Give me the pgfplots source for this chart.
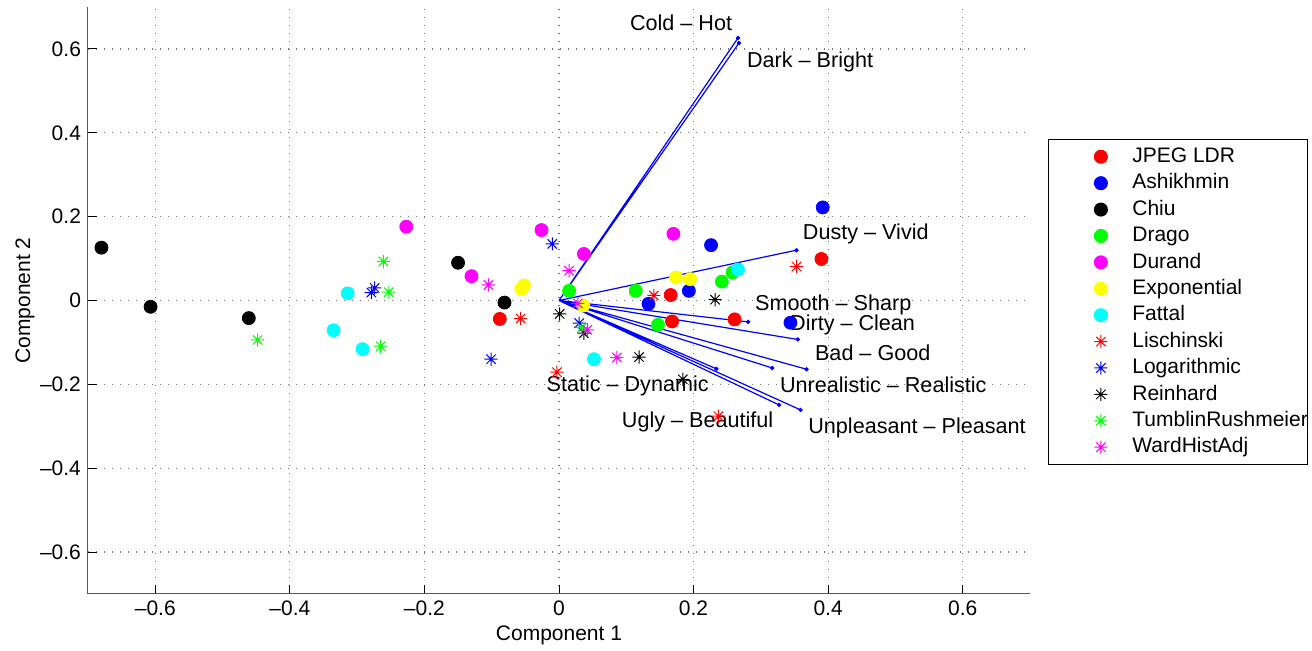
\documentclass[border=0pt]{standalone}
\usepackage{fontspec}
\setmainfont{Liberation Sans}
\usepackage{pgfplots}
\pgfplotsset{compat=1.18}
\newcommand\fs{\fontsize{10.5}{12.6}\selectfont}
\newcommand\fl{\fontsize{10.8}{13}\selectfont}
\pgfdeclareplotmark{mstar}{%
  \pgfpathmoveto{\pgfqpoint{-\pgfplotmarksize}{0pt}}\pgfpathlineto{\pgfqpoint{\pgfplotmarksize}{0pt}}%
  \pgfpathmoveto{\pgfqpoint{0pt}{-\pgfplotmarksize}}\pgfpathlineto{\pgfqpoint{0pt}{\pgfplotmarksize}}%
  \pgfpathmoveto{\pgfqpoint{-.707\pgfplotmarksize}{-.707\pgfplotmarksize}}\pgfpathlineto{\pgfqpoint{.707\pgfplotmarksize}{.707\pgfplotmarksize}}%
  \pgfpathmoveto{\pgfqpoint{-.707\pgfplotmarksize}{.707\pgfplotmarksize}}\pgfpathlineto{\pgfqpoint{.707\pgfplotmarksize}{-.707\pgfplotmarksize}}%
  \pgfusepathqstroke}
\definecolor{mred}{rgb}{1,0,0}
\definecolor{mblue}{rgb}{0,0,1}
\definecolor{mgreen}{rgb}{0,1,0}
\definecolor{mmag}{rgb}{1,0,1}
\definecolor{myel}{rgb}{1,1,0}
\definecolor{mcyan}{rgb}{0,1,1}
\begin{document}
\begin{tikzpicture}
\useasboundingbox (-44pt,-28.5pt) rectangle (612pt,297pt);
\begin{axis}[at={(0pt,0pt)}, anchor=south west, scale only axis,
  width=471pt, height=293.5pt,
  xmin=-0.7, xmax=0.7, ymin=-0.7, ymax=0.7,
  axis lines=left, axis line style={-, black!65, line width=0.5pt},
  xtick={-0.6,-0.4,-0.2,0,0.2,0.4,0.6},
  ytick={-0.6,-0.4,-0.2,0,0.2,0.4,0.6},
  xticklabels={--0.6,--0.4,--0.2,0,0.2,0.4,0.6},
  yticklabels={--0.6,--0.4,--0.2,0,0.2,0.4,0.6},
  tick align=inside, major tick length=4.5pt,
  tick style={black, line width=0.5pt},
  ticklabel style={font=\fs},
  xmajorgrids, ymajorgrids,
  major grid style={black!55, line width=0.6pt, dash pattern=on 0.6pt off 3.4pt},
  xlabel={Component 1}, ylabel={Component 2},
  label style={font=\fs},
  xlabel style={anchor=center, at={(axis description cs:0.5,-0.0698)}},
  ylabel style={anchor=center, rotate=0, at={(axis description cs:-0.0669,0.5)}},
  clip=false,
  legend image code/.code={\path (-26pt,0pt) (15.5pt,0pt); \draw[#1] plot coordinates {(0pt,0pt)};},
  legend cell align=left,
  legend style={at={(1.019,0.775)}, anchor=north west, draw=black, line width=0.5pt,
    fill=white, inner xsep=0pt, inner ysep=2pt, row sep=0pt, column sep=0pt,
    font=\fs, nodes={inner sep=0pt, text height=9.5pt, text depth=3.7pt}},
  dot/.style={only marks, mark=*, mark size=3.25pt, draw=#1, fill=#1},
  st/.style={only marks, mark=mstar, mark size=3.3pt, draw=#1, line width=0.5pt},
]
% dots
\addplot[dot=mred] coordinates {(-0.088,-0.044) (0.166,0.013) (0.168,-0.050) (0.261,-0.045) (0.390,0.099)};
\addlegendentry{JPEG LDR}
\addplot[dot=mblue] coordinates {(0.133,-0.008) (0.193,0.023) (0.226,0.132) (0.344,-0.053) (0.392,0.222)};
\addlegendentry{Ashikhmin}
\addplot[dot=black] coordinates {(-0.680,0.126) (-0.607,-0.015) (-0.461,-0.042) (-0.150,0.090) (-0.081,-0.005)};
\addlegendentry{Chiu}
\addplot[dot=mgreen] coordinates {(0.015,0.023) (0.114,0.023) (0.147,-0.058) (0.242,0.045) (0.258,0.067)};
\addlegendentry{Drago}
\addplot[dot=mmag] coordinates {(-0.227,0.176) (-0.130,0.058) (-0.026,0.168) (0.037,0.111) (0.170,0.159)};
\addlegendentry{Durand}
\addplot[dot=myel] coordinates {(-0.056,0.028) (-0.052,0.036) (0.174,0.055) (0.195,0.051) (0.036,-0.012)};
\addlegendentry{Exponential}
\addplot[dot=mcyan] coordinates {(-0.314,0.017) (-0.335,-0.071) (-0.292,-0.116) (0.052,-0.140) (0.266,0.074)};
\addlegendentry{Fattal}
% stars
\addplot[st=mred] coordinates {(-0.057,-0.043) (0.141,0.012) (0.353,0.081) (-0.003,-0.171) (0.237,-0.276)};
\addlegendentry{Lischinski}
\addplot[st=mblue] coordinates {(-0.274,0.030) (-0.279,0.019) (-0.010,0.135) (-0.101,-0.140) (0.030,-0.054)};
\addlegendentry{Logarithmic}
\addplot[st=black] coordinates {(0.001,-0.032) (0.037,-0.078) (0.119,-0.135) (0.184,-0.188) (0.232,0.002)};
\addlegendentry{Reinhard}
\addplot[st=mgreen] coordinates {(-0.448,-0.094) (-0.261,0.093) (-0.253,0.020) (-0.265,-0.109) (0.034,-0.065)};
\addlegendentry{TumblinRushmeier}
\addplot[st=mmag] coordinates {(-0.105,0.037) (0.015,0.071) (0.028,-0.007) (0.042,-0.070) (0.086,-0.136)};
\addlegendentry{WardHistAdj}
% vectors
\addplot[mblue, line width=0.6pt, unbounded coords=jump, forget plot] coordinates {
 (0,0) (0.266,0.626) (nan,nan)
 (0,0) (0.2675,0.614) (nan,nan)
 (0,0) (0.353,0.120) (nan,nan)
 (0,0) (0.281,-0.051) (nan,nan)
 (0,0) (0.355,-0.093) (nan,nan)
 (0,0) (0.368,-0.164) (nan,nan)
 (0,0) (0.317,-0.161) (nan,nan)
 (0,0) (0.234,-0.163) (nan,nan)
 (0,0) (0.327,-0.249) (nan,nan)
 (0,0) (0.359,-0.261)};
\addplot[only marks, mark=*, mark size=0.9pt, mblue, forget plot] coordinates {
 (0.266,0.626) (0.2675,0.614) (0.353,0.120) (0.281,-0.051) (0.355,-0.093)
 (0.368,-0.164) (0.317,-0.161) (0.234,-0.163) (0.327,-0.249) (0.359,-0.261)};
% labels
\begin{scope}[every node/.style={anchor=west, font=\fl, inner sep=0pt}]
\node at (axis cs:0.105,0.662) {Cold -- Hot};
\node at (axis cs:0.279,0.569) {Dark -- Bright};
\node at (axis cs:0.362,0.159) {Dusty -- Vivid};
\node at (axis cs:0.291,-0.011) {Smooth -- Sharp};
\node at (axis cs:0.343,-0.058) {Dirty -- Clean};
\node at (axis cs:0.380,-0.125) {Bad -- Good};
\node at (axis cs:0.328,-0.202) {Unrealistic -- Realistic};
\node at (axis cs:-0.019,-0.203) {Static -- Dynamic};
\node at (axis cs:0.093,-0.290) {Ugly -- Beautiful};
\node at (axis cs:0.370,-0.304) {Unpleasant -- Pleasant};
\end{scope}
\end{axis}
\end{tikzpicture}
\end{document}
